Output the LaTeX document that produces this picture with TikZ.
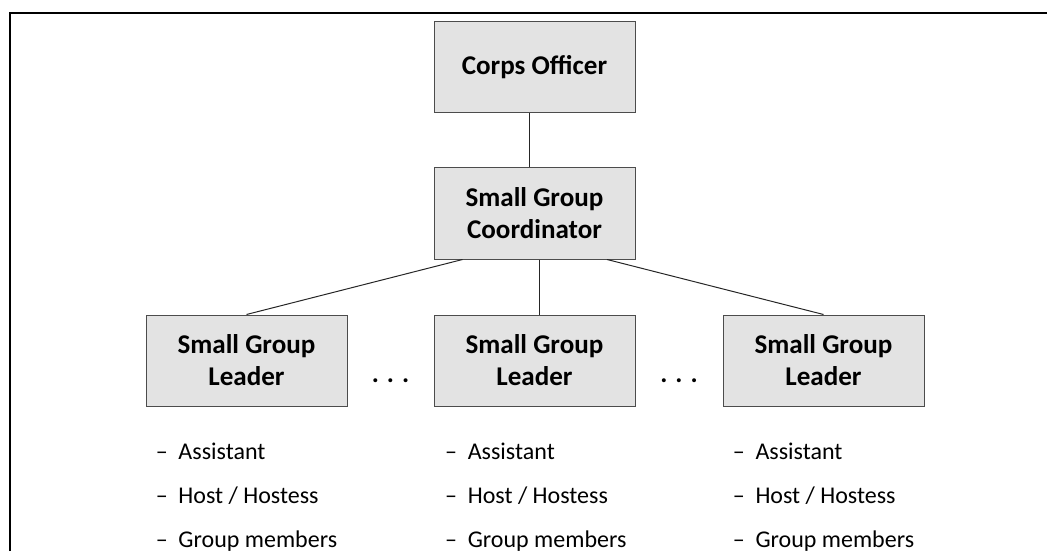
\documentclass[tikz,border=0pt]{standalone}
\usepackage{fontspec}
\setmainfont{Carlito}
\usetikzlibrary{positioning,calc}

\begin{document}
\begin{tikzpicture}[x=0.75pt, y=0.75pt, node distance=40.5pt]
	% Define styles
	\tikzstyle{orgbox} = [rectangle, draw=black!70, line width=0.75pt, fill=black!11, minimum width=150.75pt, minimum height=68.25pt, align=center, inner sep=2pt, font=\fontsize{20.3}{24}\selectfont\bfseries]
	\tikzstyle{orgline} = [draw=black!85, line width=0.75pt]
	\tikzstyle{dutylist} = [anchor=base west, align=left, inner sep=0pt, font=\fontsize{18}{33}\selectfont]
	\tikzstyle{gapdots} = [inner sep=0pt, font=\fontsize{20}{24}\selectfont\bfseries]

	\useasboundingbox (0,0) rectangle (1047,551);

	% Frame
	\draw[line width=1.5pt] (10,0) -- (10,538) -- (1047,538);

	% Nodes
	\node[orgbox] (officer) at (534.5,483.5) {Corps Officer};
	\node[orgbox, below=of officer] (coordinator) {Small Group\\Coordinator};
	\node[orgbox, below=41.25pt of coordinator] (leaderB) {Small Group\\Leader};
	\node[orgbox, left=64.5pt of leaderB] (leaderA) {Small Group\\Leader};
	\node[orgbox, right=65.25pt of leaderB] (leaderC) {Small Group\\Leader};

	\node[gapdots] (dotsA) at ($(leaderA.east)!0.5!(leaderB.west)+(0,-15pt)$) {. . .};
	\node[gapdots] (dotsB) at ($(leaderB.east)!0.5!(leaderC.west)+(0,-15pt)$) {. . .};

	% Duties (base anchor sits on the last line)
	\node[dutylist] (dutiesA) at ($(leaderA.south west)+(7.5pt,-105.75pt)$) {\textendash\hspace{0.45em}Assistant\\\textendash\hspace{0.45em}Host / Hostess\\\textendash\hspace{0.45em}Group members};
	\node[dutylist] (dutiesB) at ($(leaderB.south west)+(8.5pt,-105.75pt)$) {\textendash\hspace{0.45em}Assistant\\\textendash\hspace{0.45em}Host / Hostess\\\textendash\hspace{0.45em}Group members};
	\node[dutylist] (dutiesC) at ($(leaderC.south west)+(7.5pt,-105.75pt)$) {\textendash\hspace{0.45em}Assistant\\\textendash\hspace{0.45em}Host / Hostess\\\textendash\hspace{0.45em}Group members};

	% Lines
	\draw[orgline] ([xshift=-3.75pt]officer.south) -- ([xshift=-3.75pt]coordinator.north);
	\draw[orgline] ([xshift=-54pt]coordinator.south) -- (leaderA.north);
	\draw[orgline] ([xshift=3.4pt]coordinator.south) -- ([xshift=3.4pt]leaderB.north);
	\draw[orgline] ([xshift=54.4pt]coordinator.south) -- (leaderC.north);
\end{tikzpicture}
\end{document}
